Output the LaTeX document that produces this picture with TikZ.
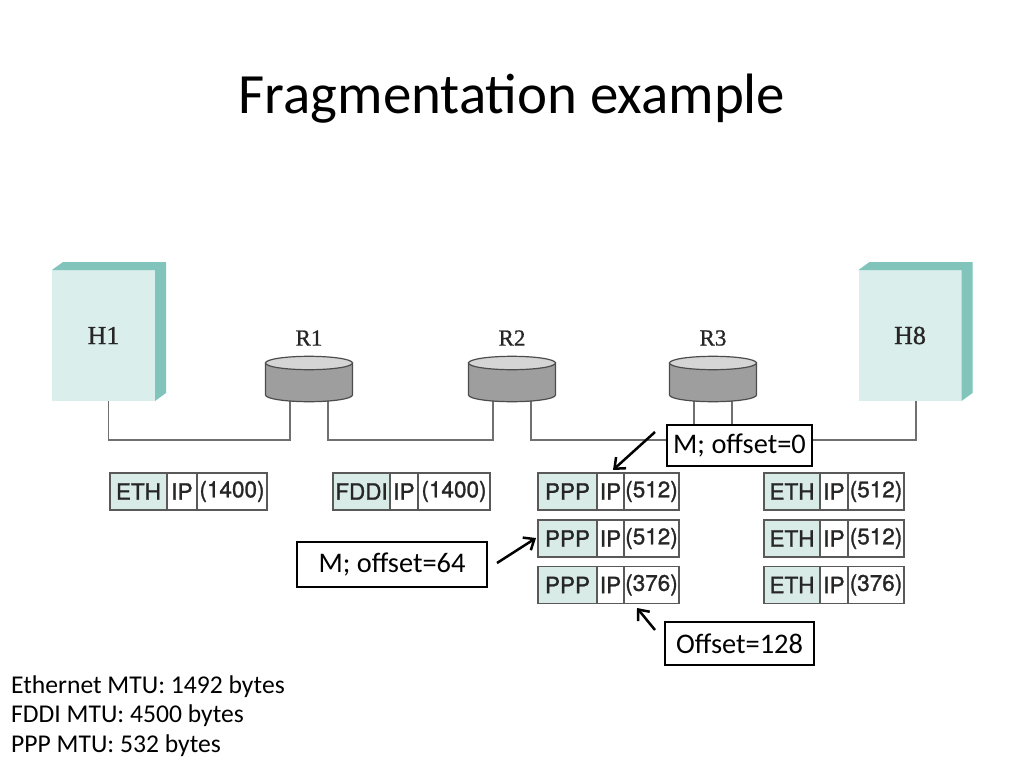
\documentclass[tikz,border=0pt]{standalone}
\usepackage{fontspec}
\setmainfont{Carlito}
\newfontfamily\helv[FakeBold=1.2]{TeX Gyre Heros}
\newfontfamily\tms[FakeBold=0.8]{Liberation Serif}
\usetikzlibrary{positioning,arrows.meta}
\definecolor{hostfront}{HTML}{DAEEEB}
\definecolor{hostside}{HTML}{80C4BC}
\definecolor{hdrfill}{HTML}{D8EBE7}
\definecolor{routerbody}{HTML}{9E9E9E}
\definecolor{routerlid}{HTML}{D5D5D5}
\definecolor{wiregray}{HTML}{707070}
\definecolor{celltext}{HTML}{262626}

\begin{document}
\begin{tikzpicture}[x=1pt,y=-1pt,
	host/.style={fill=hostfront,minimum width=103,minimum height=131,inner sep=0pt,outer sep=0pt,font=\tms\fontsize{26}{31}\selectfont,text=black!85},
	lbl/.style={inner sep=0pt,font=\tms\fontsize{23}{27}\selectfont,text=black!85},
	router/.style={draw=black!70,line width=1.2pt,fill=routerbody},
	lid/.style={draw=black!70,line width=1.2pt,fill=routerlid},
	wire/.style={draw=wiregray,line width=1.5pt},
	cell/.style={draw=black!65,line width=1.2pt,fill=white,minimum height=37,inner sep=0pt,outer sep=0pt,font=\helv\fontsize{22.5}{26}\selectfont,text=celltext},
	hdr/.style={cell,fill=hdrfill},
	callout/.style={draw,line width=2.5pt,fill=white,inner sep=0pt,font=\fontsize{28.4}{34}\selectfont},
	pointer/.style={line width=2.5pt,-{Straight Barb[length=9pt,width=15pt]}},
	mtu/.style={anchor=base west,inner sep=0pt,font=\fontsize{25.6}{31}\selectfont}]
\fill[white] (0,0) rectangle (1024,768);
\node[anchor=base,inner sep=0pt,font=\fontsize{56.9}{68}\selectfont] (title) at (512,113) {Fragmentation example};
\foreach \n/\x/\t in {h1/103.5/H1,h8/910/H8}
{
	\node[host] (\n) at (\x,335.5) {\t};
	\fill[hostside] (\n.north west) -- ++(11,-8) -- ++(103,0) -- ++(0,131) -- ++(-11,8) -- (\n.north east) -- cycle;
}
\foreach \x [count=\n] in {309,512,713}
{
	\coordinate (r\n) at (\x,363);
	\coordinate (r\n-l) at (\x-19,400);
	\coordinate (r\n-r) at (\x+19,400);
	\node[lbl] (rl\n) at (\x,338) {R\n};
}
\draw[wire] ([xshift=5pt]h1.south) -- ++(0,39) -| (r1-l);
\foreach \a/\b in {1/2,2/3}
	\draw[wire] (r\a-r) -- ++(0,40) -| (r\b-l);
\draw[wire] (r3-r) -- ++(0,40) -| ([xshift=6pt]h8.south);
\foreach \n in {1,2,3}
{
	\draw[router] (r\n) ++(-43.5,0) -- ++(0,32) arc[start angle=180,end angle=360,x radius=43.5pt,y radius=6.7pt] -- ++(0,-32) -- cycle;
	\draw[lid] (r\n) ellipse[x radius=43.5pt,y radius=6.7pt];
}
\foreach \n/\x/\y/\a/\wa/\wb/\wc/\d in {
	e1/110/491.5/ETH/57/30/70/(1400),
	f1/333/491.5/FDDI/57/28/72/(1400),
	p1/538/491.5/PPP/59/27/55/(512),
	p2/538/538.5/PPP/59/27/55/(512),
	p3/538/585/PPP/59/27/55/(376),
	q1/764/491.5/ETH/56/28/56/(512),
	q2/764/538.5/ETH/56/28/56/(512),
	q3/764/585/ETH/56/28/56/(376)}
{
	\node[hdr,minimum width=\wa,anchor=west] (\n-h) at (\x,\y) {\a};
	\node[cell,minimum width=\wb,right=0pt of \n-h] (\n-i) {IP};
	\node[cell,minimum width=\wc,right=0pt of \n-i] (\n-d) {\d};
}
\node[callout,minimum width=145,minimum height=41] (c0) at (739.5,445.5) {M; offset=0};
\node[callout,minimum width=190,minimum height=45] (c1) at (392,564.5) {M; offset=64};
\node[callout,minimum width=149,minimum height=43] (c2) at (739.5,643.5) {Offset=128};
\coordinate (s0) at (655,432);
\coordinate (t0) at (613,470);
\coordinate (s1) at (497,563);
\coordinate (t1) at (536,538);
\coordinate (s2) at (655,630);
\coordinate (t2) at (637,608);
\foreach \i in {0,1,2}
	\draw[pointer] (s\i) -- (t\i);
\foreach \t [count=\i] in {Ethernet MTU: 1492 bytes,FDDI MTU: 4500 bytes,PPP MTU: 532 bytes}
	\node[mtu] (mtu\i) at (11,663.5+29.5*\i) {\t};
\end{tikzpicture}
\end{document}
